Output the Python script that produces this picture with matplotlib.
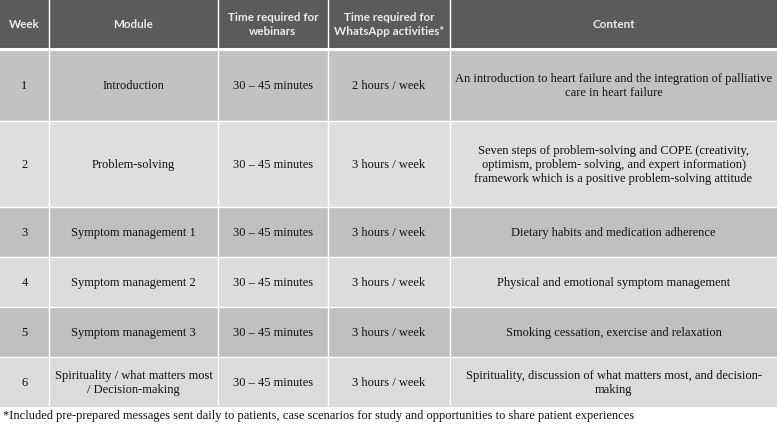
import matplotlib
matplotlib.use("Agg")
import matplotlib.pyplot as plt
from matplotlib.patches import Rectangle

headers = ["Week", "Module", "Time required for\nwebinars",
           "Time required for\nWhatsApp activities*", "Content"]
weeks = ["1", "2", "3", "4", "5", "6"]
modules = ["Introduction", "Problem-solving", "Symptom management 1",
           "Symptom management 2", "Symptom management 3",
           "Spirituality / what matters most\n/ Decision-making"]
webinar_times = ["30 – 45 minutes"] * 6
whatsapp_times = ["2 hours / week", "3 hours / week", "3 hours / week",
                  "3 hours / week", "3 hours / week", "3 hours / week"]
contents = [
    "An introduction to heart failure and the integration of palliative\ncare in heart failure",
    "Seven steps of problem-solving and COPE (creativity,\noptimism, problem- solving, and expert information)\nframework which is a positive problem-solving attitude",
    "Dietary habits and medication adherence",
    "Physical and emotional symptom management",
    "Smoking cessation, exercise and relaxation",
    "Spirituality, discussion of what matters most, and decision-\nmaking",
]
footnote = ("*Included pre-prepared messages sent daily to patients, case scenarios "
            "for study and opportunities to share patient experiences")

W, H = 777, 425
fig = plt.figure(figsize=(W / 100, H / 100), dpi=100)
ax = fig.add_axes([0, 0, 1, 1])
ax.set_xlim(0, W)
ax.set_ylim(H, 0)
ax.axis("off")

col_edges = [0, 49, 218, 328, 450, 777]
row_edges = [0, 49, 121, 207, 257, 307, 357, 407]
row_colors = ["#5b5b5b", "#c2c2c2", "#dedede", "#c0c0c0", "#dcdcdc", "#bfbfbf", "#dbdbdb"]

rows = [headers] + [list(r) for r in zip(weeks, modules, webinar_times, whatsapp_times, contents)]

for ri, row in enumerate(rows):
    y0, y1 = row_edges[ri], row_edges[ri + 1]
    for ci, txt in enumerate(row):
        x0, x1 = col_edges[ci], col_edges[ci + 1]
        ax.add_patch(Rectangle((x0, y0), x1 - x0, y1 - y0, facecolor=row_colors[ri],
                               edgecolor="none"))
        cx, cy = (x0 + x1) / 2, (y0 + y1) / 2
        if ri == 0:
            ax.text(cx, cy, txt, ha="center", va="center", color="#ececec",
                    fontsize=8.4, fontweight="bold", family="Lato",
                    linespacing=1.3)
        else:
            ax.text(cx, cy + 1, txt, ha="center", va="center", color="#111111",
                    fontsize=9.0, family="Liberation Serif", linespacing=1.2)

# grid lines (white)
for x in col_edges[1:-1]:
    ax.plot([x, x], [row_edges[0], row_edges[-1]], color="white", lw=1.0)
for i, y in enumerate(row_edges[1:-1]):
    ax.plot([0, W], [y, y], color="white", lw=2.2 if i == 0 else 1.0)

ax.text(3, 416, footnote, ha="left", va="center", color="#111111",
        fontsize=9.0, family="Liberation Serif")

fig.savefig("out.png", dpi=100, facecolor="white")
